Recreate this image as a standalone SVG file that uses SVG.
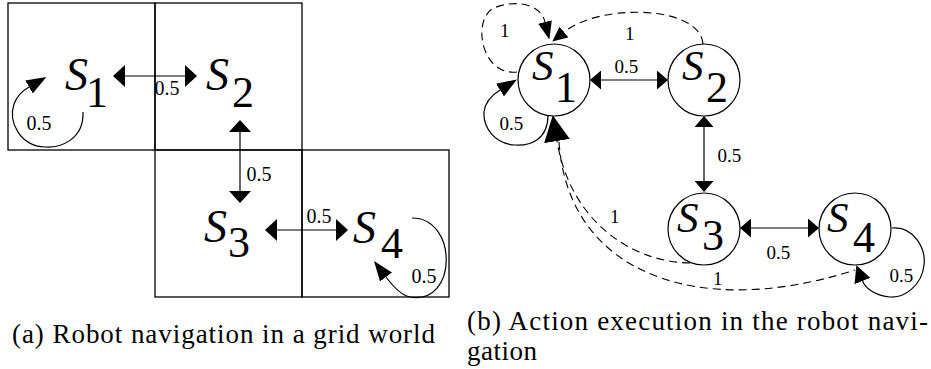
<svg xmlns="http://www.w3.org/2000/svg" width="931" height="369" viewBox="0 0 931 369">
<style>
.bg{fill:#fff}
.cell{fill:none;stroke:#000;stroke-width:1.3}
.st{fill:#fff;stroke:#000;stroke-width:1.2}
.ln{fill:none;stroke:#000;stroke-width:1.2}
.ds{fill:none;stroke:#000;stroke-width:1.1;stroke-dasharray:8 5}
.si{font-family:"Liberation Serif","Times New Roman",serif;font-style:italic;font-size:46px;fill:#000}
.sr{font-family:"Liberation Serif","Times New Roman",serif;font-style:italic;font-size:43px;fill:#000}
.sb{font-family:"Liberation Serif","Times New Roman",serif;font-size:44px;fill:#000}
.lb{font-family:"Liberation Serif","Times New Roman",serif;font-size:20px;fill:#000}
.lr{font-family:"Liberation Serif","Times New Roman",serif;font-size:19px;fill:#000}
.cap{font-family:"Liberation Serif","Times New Roman",serif;font-size:27px;fill:#000}
</style>
<defs>
<marker id="aL" viewBox="0 -11 12 22" refX="0" refY="0" markerWidth="12" markerHeight="22" markerUnits="userSpaceOnUse" orient="auto-start-reverse"><path d="M0,-11 L12,0 L0,11 z" fill="#000"/></marker>
<marker id="aR" viewBox="0 -9.5 11 19" refX="0" refY="0" markerWidth="11" markerHeight="19" markerUnits="userSpaceOnUse" orient="auto-start-reverse"><path d="M0,-9.5 L11,0 L0,9.5 z" fill="#000"/></marker>
<marker id="aLoop" viewBox="0 -7.5 20 15" refX="0" refY="0" markerWidth="20" markerHeight="15" markerUnits="userSpaceOnUse" orient="auto"><path d="M0,-7.5 L20,0 L0,7.5 z" fill="#000"/></marker>
<marker id="aM" viewBox="0 -8.5 17 17" refX="0" refY="0" markerWidth="17" markerHeight="17" markerUnits="userSpaceOnUse" orient="auto"><path d="M0,-8.5 L17,0 L0,8.5 z" fill="#000"/></marker>
<marker id="aD" viewBox="0 -7 18 14" refX="0" refY="0" markerWidth="18" markerHeight="14" markerUnits="userSpaceOnUse" orient="auto"><path d="M0,-7 L18,0 L0,7 z" fill="#000"/></marker>
<marker id="aS" viewBox="0 -7 15 14" refX="0" refY="0" markerWidth="15" markerHeight="14" markerUnits="userSpaceOnUse" orient="auto"><path d="M0,-7 L15,0 L0,7 z" fill="#000"/></marker>
<marker id="aB" viewBox="0 -13 26 26" refX="0" refY="0" markerWidth="26" markerHeight="26" markerUnits="userSpaceOnUse" orient="auto"><path d="M0,-13 L26,0 L0,13 z" fill="#000"/></marker>
</defs>
<rect class="bg" x="0" y="0" width="931" height="369"/>

<!-- (a) grid world -->
<g id="grid">
<rect class="cell" x="8" y="3" width="147" height="147"/>
<rect class="cell" x="155" y="3" width="147" height="147"/>
<rect class="cell" x="155" y="150" width="147" height="147"/>
<rect class="cell" x="302" y="150" width="147" height="147"/>
</g>
<g id="a-s1"><text><tspan class="si" x="65" y="90">S</tspan><tspan class="sb" x="86" y="107">1</tspan></text></g>
<g id="a-s2"><text><tspan class="si" x="206" y="90">S</tspan><tspan class="sb" x="232" y="107">2</tspan></text></g>
<g id="a-s3"><text><tspan class="si" x="204" y="242">S</tspan><tspan class="sb" x="228" y="257">3</tspan></text></g>
<g id="a-s4"><text><tspan class="si" x="353" y="243">S</tspan><tspan class="sb" x="381" y="258">4</tspan></text></g>
<g id="a-connectors">
<path class="ln" d="M125,76 L185,76" marker-start="url(#aL)" marker-end="url(#aL)"/>
<path class="ln" d="M240,132 L240,191" marker-start="url(#aL)" marker-end="url(#aL)"/>
<path class="ln" d="M277,230 L336,230" marker-start="url(#aL)" marker-end="url(#aL)"/>
<path class="ln" d="M83,112 C84,140 60,148 45,147 C20,146 8,122 14,104 C17,96 22,91 29,87" marker-end="url(#aLoop)"/>
<path class="ln" d="M412,218 C458,218 458,305 410,297 C400,295 392,285 386,277" marker-end="url(#aLoop)"/>
<text class="lb" x="154.5" y="95">0.5</text>
<text class="lb" x="246.5" y="181">0.5</text>
<text class="lb" x="306.5" y="223">0.5</text>
<text class="lb" x="26.5" y="130">0.5</text>
<text class="lb" x="411.5" y="283">0.5</text>
</g>

<!-- (b) action execution -->
<g id="b-connectors">
<path class="ln" d="M601,80 L657,80" marker-start="url(#aR)" marker-end="url(#aR)"/>
<path class="ln" d="M704,127 L704,181" marker-start="url(#aR)" marker-end="url(#aR)"/>
<path class="ln" d="M751,228 L808,228" marker-start="url(#aR)" marker-end="url(#aR)"/>
<path class="ln" d="M548,115 C548,140 530,146 515,145 C495,144 483,128 484,112 C485,102 492,95 500,90" marker-end="url(#aLoop)"/>
<path class="ln" d="M892,228 C915,226 926,250 924,265 C922,285 905,298 890,297 C878,296 866,290 862.5,281" marker-end="url(#aM)"/>
<path class="ds" d="M517,72 C480,76 472,18 494,8 C512,0 540,2 545,22" marker-end="url(#aD)"/>
<path class="ds" d="M703,44 C700,5 600,3 564,32" marker-end="url(#aS)"/>
<path class="ds" d="M690,263 C630,262 570,220 557,141" marker-end="url(#aB)"/>
<path class="ds" d="M559,142 C568,275 700,320 855,270"/>
<text class="lr" x="614.5" y="73">0.5</text>
<text class="lr" x="717.5" y="162">0.5</text>
<text class="lr" x="766.5" y="259">0.5</text>
<text class="lr" x="499.5" y="130">0.5</text>
<text class="lr" x="889.5" y="282">0.5</text>
<text class="lr" x="500" y="37">1</text>
<text class="lr" x="625" y="40">1</text>
<text class="lr" x="610" y="223">1</text>
<text class="lr" x="713" y="285">1</text>
</g>
<g id="b-s1"><circle class="st" cx="554" cy="80" r="36"/><text><tspan class="sr" x="532" y="80">S</tspan><tspan class="sb" x="555" y="102">1</tspan></text></g>
<g id="b-s2"><circle class="st" cx="704" cy="80" r="36"/><text><tspan class="sr" x="682" y="80">S</tspan><tspan class="sb" x="706" y="102">2</tspan></text></g>
<g id="b-s3"><circle class="st" cx="704" cy="229" r="36"/><text><tspan class="sr" x="677" y="232">S</tspan><tspan class="sb" x="702" y="250">3</tspan></text></g>
<g id="b-s4"><circle class="st" cx="855" cy="229" r="36"/><text><tspan class="sr" x="827" y="232">S</tspan><tspan class="sb" x="853" y="252">4</tspan></text></g>

<g id="captions">
<text class="cap" x="12" y="343" textLength="423">(a) Robot navigation in a grid world</text>
<text class="cap" x="467" y="330" textLength="461">(b) Action execution in the robot navi-</text>
<text class="cap" x="467" y="360" textLength="70">gation</text>
</g>
</svg>
